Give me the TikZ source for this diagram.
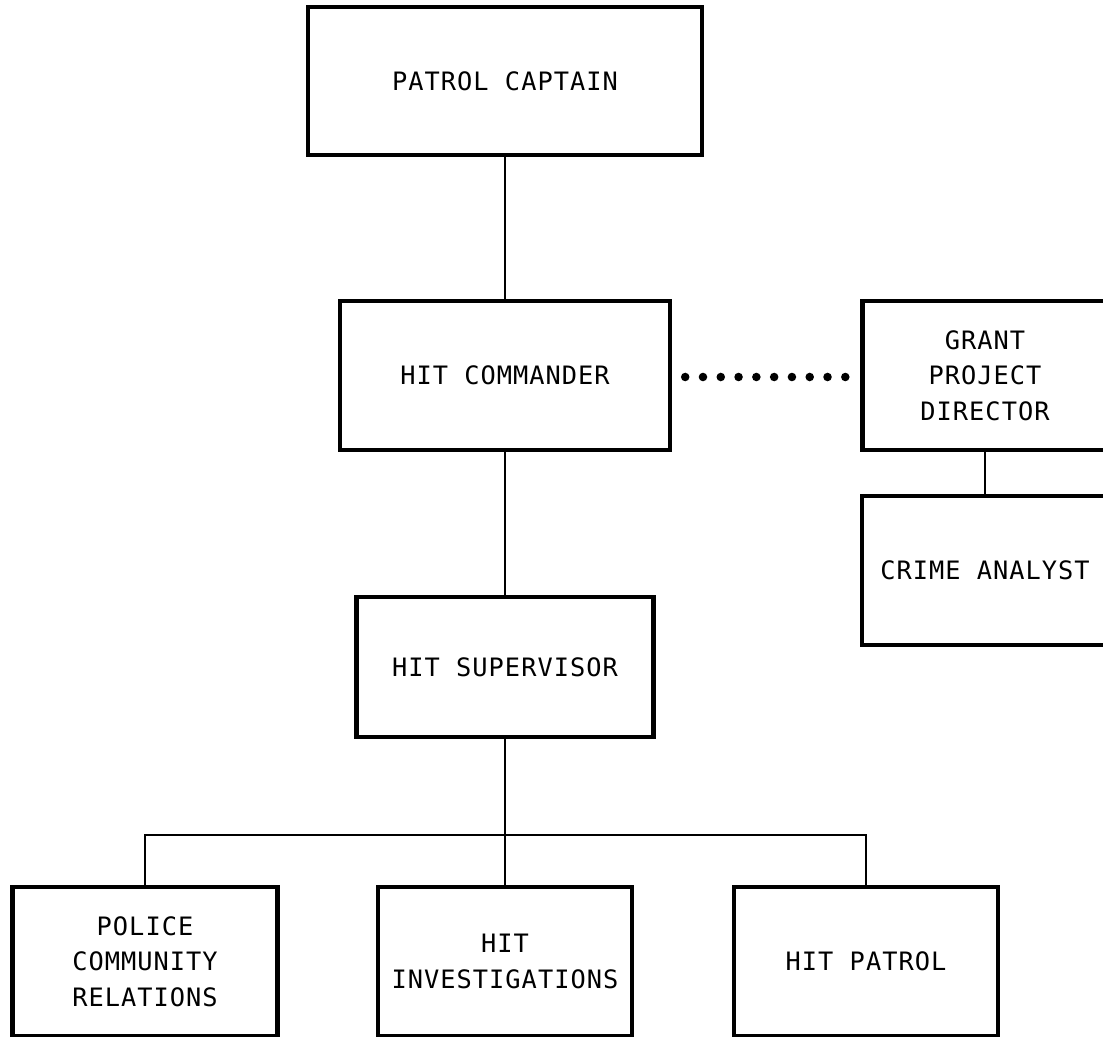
\documentclass[tikz,border=0pt]{standalone}
\usepackage{fontspec}
\newfontfamily\lbl[LetterSpace=4]{DejaVu Sans Mono}
\usetikzlibrary{calc}
\begin{document}
\begin{tikzpicture}[x=0.75pt,y=-0.75pt,
  box/.style={draw, line width=3.3pt, rectangle, inner sep=0pt, align=center,
    font=\lbl\fontsize{19}{26.5}\selectfont},
  link/.style={line width=1.1pt},
  dotc/.style={fill=black}]
\useasboundingbox (0,0) rectangle (1103,1037);
\clip (0,0) rectangle (1103,1037);
\node[box, minimum width=295.5pt, minimum height=111pt] (pc) at (505,81) {PATROL CAPTAIN};
\node[box, minimum width=247.5pt, minimum height=111.75pt] (hc) at (505,375.5) {HIT COMMANDER};
\node[box, minimum width=222.75pt, minimum height=105pt] (hs) at (505,667) {HIT SUPERVISOR};
\node[box, minimum width=183.75pt, minimum height=111.75pt] (gp) at (985,375.5) {GRANT\\PROJECT\\DIRECTOR};
\node[box, minimum width=184.5pt, minimum height=111.75pt] (ca) at (985,570.5) {CRIME ANALYST};
\node[box, minimum width=198.75pt, minimum height=111.75pt] (pcr) at (145,961.5) {POLICE\\COMMUNITY\\RELATIONS};
\node[box, minimum width=190.5pt, minimum height=111.75pt] (hi) at (505,961.5) {HIT\\INVESTIGATIONS};
\node[box, minimum width=198pt, minimum height=111.75pt] (hp) at (866,961.5) {HIT PATROL};
\coordinate (bus) at (0,835);
\draw[link] (pc.south) -- (hc.north);
\draw[link] (hc.south) -- (hs.north);
\draw[link] (hs.south) -- (hi.north);
\draw[link] (pcr.north) |- (hp.north |- bus) -- (hp.north);
\draw[link] (gp.south) -- (ca.north);
\coordinate (d0) at ($(hc.east)+(13,1.5)$);
\coordinate (d9) at ($(gp.west)+(-15,1.5)$);
\foreach \i in {0,...,9} {
  \fill[dotc] ($(d0)!\i/9!(d9)$) circle (3.2pt);
}
\end{tikzpicture}
\end{document}
